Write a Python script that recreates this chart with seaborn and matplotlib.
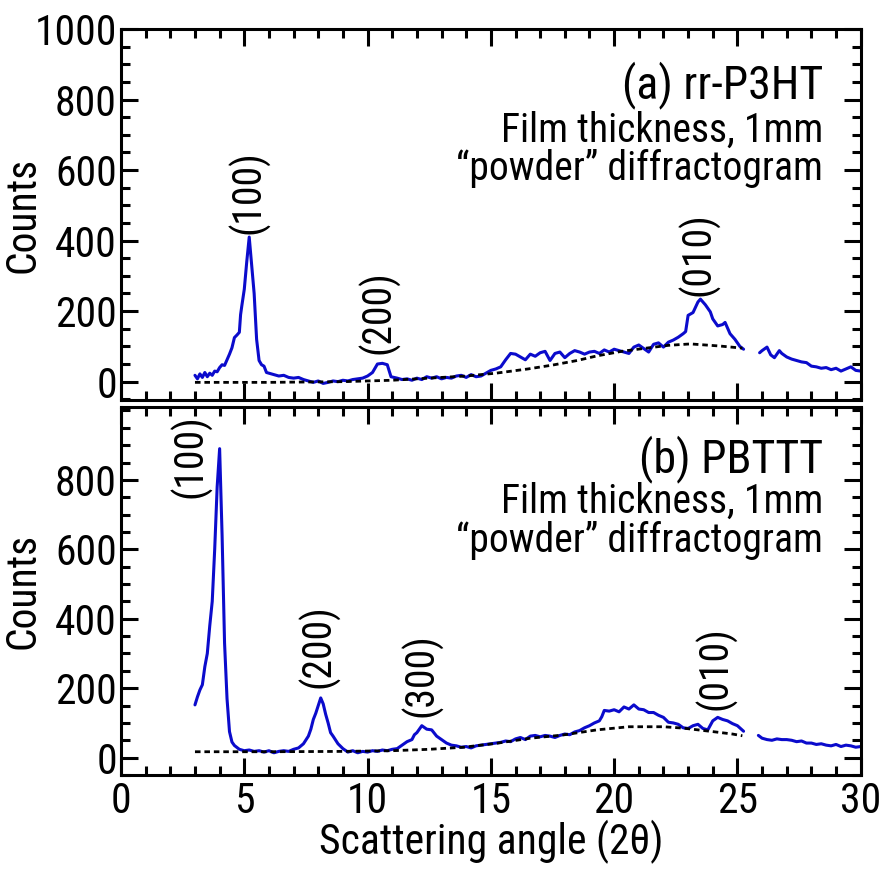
import os
import numpy as np
import pandas as pd
import matplotlib
matplotlib.use("Agg")
import matplotlib.pyplot as plt
from matplotlib import font_manager as fm
from matplotlib.ticker import MultipleLocator
import seaborn as sns

# ---------------- data ----------------
# (a) rr-P3HT, first segment
a1_x = [3.0, 3.1, 3.2, 3.3, 3.4, 3.5, 3.6, 3.7, 3.8, 3.9, 4.0, 4.1, 4.2, 4.3, 4.4, 4.5, 4.6, 4.7,
        4.8, 4.85, 4.9, 5.0, 5.1, 5.2, 5.3, 5.4, 5.5, 5.6, 5.7, 5.8, 5.9, 6.0, 6.2, 6.4, 6.6, 6.8,
        7.0, 7.2, 7.4, 7.6, 7.8, 8.0, 8.2, 8.4, 8.6, 8.8, 9.0, 9.2, 9.4, 9.6, 9.8, 10.0, 10.2,
        10.4, 10.6, 10.8, 10.95, 11.2, 11.4, 11.6, 11.8, 12.0, 12.2, 12.4, 12.6, 12.8, 13.0,
        13.2, 13.4, 13.6, 13.8, 14.0, 14.2, 14.4, 14.6, 14.8, 15.0, 15.2, 15.4, 15.6, 15.8,
        16.0, 16.2, 16.4, 16.6, 16.8, 17.0, 17.2, 17.4, 17.6, 17.8, 18.0, 18.2, 18.4, 18.6,
        18.8, 19.0, 19.2, 19.4, 19.6, 19.8, 20.0, 20.2, 20.4, 20.6, 20.8, 21.0, 21.2, 21.4,
        21.6, 21.8, 22.0, 22.2, 22.4, 22.6, 22.8, 22.9, 23.0, 23.2, 23.4, 23.5, 23.7, 23.9,
        24.0, 24.2, 24.4, 24.5, 24.7, 24.9, 25.1, 25.25]
a1_y = [18, 8, 22, 12, 26, 14, 24, 18, 30, 28, 40, 48, 46, 62, 78, 96, 125, 132,
        140, 190, 215, 262, 340, 410, 330, 250, 120, 60, 48, 44, 26, 24, 20, 16, 18, 12,
        10, 12, 6, 2, -2, 2, -5, -2, 2, 0, 4, 2, 6, 8, 10, 16, 26,
        50, 52, 48, 14, 10, 6, 8, 4, 10, 6, 14, 10, 14, 8,
        12, 10, 16, 18, 12, 20, 14, 16, 24, 32, 36, 42, 62, 80,
        78, 70, 62, 78, 72, 82, 86, 60, 80, 84, 68, 80, 88, 84,
        78, 84, 86, 80, 90, 84, 92, 88, 84, 80, 98, 104, 94, 84,
        106, 110, 98, 112, 118, 126, 136, 142, 188, 196, 226, 234, 218, 198,
        178, 158, 162, 168, 136, 120, 100, 92]
# (a) second segment (after the gap)
a2_x = [25.9, 26.0, 26.2, 26.35, 26.5, 26.7, 26.8, 27.0, 27.2, 27.4, 27.6, 27.8, 28.0,
        28.2, 28.4, 28.6, 28.8, 29.0, 29.2, 29.4, 29.6, 29.8, 30.0]
a2_y = [82, 88, 98, 76, 68, 88, 80, 70, 64, 60, 56, 54, 44,
        42, 38, 40, 34, 38, 30, 36, 42, 32, 30]
# (a) amorphous background (dashed)
a_bg_x = [3.0, 6.0, 9.0, 11.0, 12.5, 14.0, 15.2, 16.5, 17.5, 18.5, 19.3, 20.3, 21.3, 22.2,
          23.1, 24.3, 25.2]
a_bg_y = [-2, -2, 0, 4, 10, 16, 24, 36, 47, 60, 73, 86, 95, 103, 107, 101, 95]

# (b) PBTTT, first segment
b1_x = [3.0, 3.1, 3.2, 3.3, 3.4, 3.5, 3.6, 3.7, 3.8, 3.9, 4.0, 4.1, 4.2, 4.3, 4.4, 4.5, 4.6,
        4.8, 5.0, 5.2, 5.4, 5.6, 5.8, 6.0, 6.2, 6.4, 6.6, 6.8, 7.0, 7.2, 7.4, 7.6, 7.7, 7.8,
        7.9, 8.0, 8.1, 8.2, 8.3, 8.4, 8.5, 8.6, 8.8, 9.0, 9.2, 9.4, 9.6, 9.8, 10.0, 10.2,
        10.4, 10.6, 10.8, 11.0, 11.2, 11.4, 11.6, 11.8, 11.9, 12.0, 12.2, 12.4, 12.6, 12.8,
        13.0, 13.2, 13.4, 13.6, 13.8, 14.0, 14.2, 14.4, 14.6, 14.8, 15.0, 15.2, 15.4, 15.6,
        15.8, 16.0, 16.2, 16.4, 16.6, 16.8, 17.0, 17.2, 17.4, 17.6, 17.8, 18.0, 18.2, 18.4,
        18.6, 18.8, 19.0, 19.2, 19.4, 19.5, 19.6, 19.8, 20.0, 20.2, 20.4, 20.6, 20.8, 21.0,
        21.2, 21.4, 21.6, 21.8, 22.0, 22.2, 22.4, 22.6, 22.8, 23.0, 23.2, 23.4, 23.6, 23.8,
        24.0, 24.2, 24.4, 24.6, 24.8, 25.0, 25.25]
b1_y = [152, 175, 195, 210, 262, 300, 380, 450, 600, 780, 890, 640, 330, 170, 75, 45, 35,
        24, 20, 22, 18, 20, 16, 20, 14, 18, 20, 18, 24, 28, 40, 62, 82, 110,
        128, 150, 172, 155, 125, 100, 72, 62, 40, 26, 16, 20, 14, 18, 16, 20,
        18, 22, 20, 24, 26, 36, 46, 52, 66, 72, 92, 82, 80, 62,
        52, 42, 36, 34, 30, 32, 28, 34, 36, 38, 40, 42, 44, 48,
        46, 54, 58, 52, 62, 64, 60, 64, 62, 58, 64, 68, 66, 74,
        78, 86, 92, 100, 106, 118, 136, 134, 138, 132, 146, 140, 152, 140,
        138, 130, 130, 122, 116, 102, 100, 96, 86, 84, 92, 96, 84, 80,
        106, 116, 110, 106, 98, 92, 76]
# (b) second segment (after the gap)
b2_x = [25.85, 26.0, 26.2, 26.4, 26.6, 26.8, 27.0, 27.2, 27.4, 27.6, 27.8, 28.0, 28.2,
        28.4, 28.6, 28.8, 29.0, 29.2, 29.4, 29.6, 29.8, 30.0]
b2_y = [64, 56, 52, 50, 54, 52, 52, 50, 46, 48, 42, 42, 38,
        40, 36, 34, 38, 32, 36, 34, 30, 32]
# (b) amorphous background (dashed)
b_bg_x = [3.0, 6.0, 9.0, 11.0, 12.5, 13.9, 15.2, 16.6, 17.9, 19.3, 20.6, 22.0, 22.8, 24.0,
          24.8, 25.2]
b_bg_y = [17, 17, 18, 20, 24, 30, 41, 56, 65, 80, 89, 89, 85, 75, 68, 63]

# peak labels: (text, x, y)
a_peaks = ["(100)", "(200)", "(010)"]
a_peak_x = [5.15, 10.42, 23.4]
a_peak_y = [537, 198, 363]
b_peaks = ["(100)", "(200)", "(300)", "(010)"]
b_peak_x = [2.8, 8.0, 12.2, 24.1]
b_peak_y = [869, 322, 238, 259]

x_ticks = [0, 5, 10, 15, 20, 25, 30]
a_yticks = [0, 200, 400, 600, 800, 1000]
b_yticks = [0, 200, 400, 600, 800]


# ---------------- font: prefer a narrow / condensed sans ----------------
def pick_condensed():
    prio = ["liberation sans narrow", "roboto condensed", "noto sans", "open sans",
            "arial narrow", "nimbus sans narrow", "dejavu sans"]
    found = []
    for f in fm.fontManager.ttflist:
        key = (f.name + " " + os.path.basename(f.fname)).lower()
        if f.style != "normal" or "mono" in key or "serif" in key and "sans" not in key:
            continue
        w = f.weight
        if isinstance(w, str):
            w = {"normal": 400, "regular": 400, "book": 400}.get(w.lower(), 700)
        if w != 400:
            continue
        st = str(f.stretch)
        cond = ("narrow" in key or ("condensed" in key and "semi" not in key and "extra" not in key)
                or st == "condensed")
        if not cond:
            continue
        rank = len(prio)
        for i, p in enumerate(prio):
            if key.startswith(p) or f.name.lower().startswith(p):
                rank = i
                break
        found.append((rank, f))
    if not found:
        return None
    found.sort(key=lambda t: t[0])
    return found[0][1]


sns.set_style("ticks")
cf = pick_condensed()
if cf is not None:
    plt.rcParams["font.family"] = [cf.name, "DejaVu Sans"]
    plt.rcParams["font.stretch"] = cf.stretch
    SCALE = 1.0
else:
    plt.rcParams["font.family"] = ["Liberation Sans", "DejaVu Sans"]
    SCALE = 0.93
for k in ["text.color", "axes.labelcolor", "xtick.color", "ytick.color", "axes.edgecolor"]:
    plt.rcParams[k] = "black"

BLUE = "#0B0BCC"
LW = 2.2
fig = plt.figure(figsize=(8.83, 8.69), dpi=100)
W, H = 883, 869
left, right = 121 / W, 860.7 / W
ax_a = fig.add_axes([left, 1 - 400 / H, right - left, (400 - 29) / H])
ax_b = fig.add_axes([left, 1 - 775 / H, right - left, (775 - 407) / H])


def draw(ax, segs, bg, peaks, px, py, title, ylim, yticks, show_x):
    for sx, sy in segs:
        df = pd.DataFrame({"x": sx, "y": sy})
        sns.lineplot(data=df, x="x", y="y", ax=ax, color=BLUE, lw=LW,
                     estimator=None, sort=False)
    dfb = pd.DataFrame({"x": bg[0], "y": bg[1]})
    sns.lineplot(data=dfb, x="x", y="y", ax=ax, color="black", lw=2.0,
                 estimator=None, sort=False)
    ax.lines[-1].set_dashes((2.0, 1.4))
    for t, xx, yy in zip(peaks, px, py):
        ax.text(xx, yy, t, rotation=90, ha="center", va="center", fontsize=28.5 * SCALE)
    ax.set_xlim(0, 30)
    ax.set_ylim(*ylim)
    ax.set_xticks(x_ticks)
    ax.set_yticks(yticks)
    ax.xaxis.set_minor_locator(MultipleLocator(1))
    ax.yaxis.set_minor_locator(MultipleLocator(50))
    ax.tick_params(which="both", direction="in", top=True, right=True, width=2.2,
                   labelsize=30 * SCALE, pad=4)
    ax.tick_params(axis="y", pad=3)
    ax.tick_params(which="major", length=12)
    ax.tick_params(which="minor", length=6.5)
    for s in ax.spines.values():
        s.set_linewidth(2.2)
        s.set_visible(True)
    ax.set_ylabel("Counts", fontsize=30 * SCALE)
    if show_x:
        ax.set_xlabel("Scattering angle (2θ)", fontsize=30 * SCALE, labelpad=-1)
    else:
        ax.set_xlabel("")
        ax.tick_params(labelbottom=False)
    t0, t1, t2 = title
    ax.text(0.949, t0[1], t0[0], transform=ax.transAxes, ha="right", va="baseline",
            fontsize=33 * SCALE)
    ax.text(0.949, t1, "Film thickness, 1mm", transform=ax.transAxes, ha="right",
            va="baseline", fontsize=28.5 * SCALE)
    ax.text(0.949, t2, "\u201cpowder\u201d diffractogram", transform=ax.transAxes,
            ha="right", va="baseline", fontsize=28.5 * SCALE)


draw(ax_a, [(a1_x, a1_y), (a2_x, a2_y)], (a_bg_x, a_bg_y), a_peaks, a_peak_x, a_peak_y,
     (("(a) rr-P3HT", 0.814), 0.695, 0.593), (-52, 1000), a_yticks, False)
draw(ax_b, [(b1_x, b1_y), (b2_x, b2_y)], (b_bg_x, b_bg_y), b_peaks, b_peak_x, b_peak_y,
     (("(b) PBTTT", 0.823), 0.712, 0.606), (-50, 1010), b_yticks, True)

ax_a.yaxis.set_label_coords(-0.105, 0.5)
ax_b.yaxis.set_label_coords(-0.105, 0.5)

fig.savefig("out.png", dpi=100)
